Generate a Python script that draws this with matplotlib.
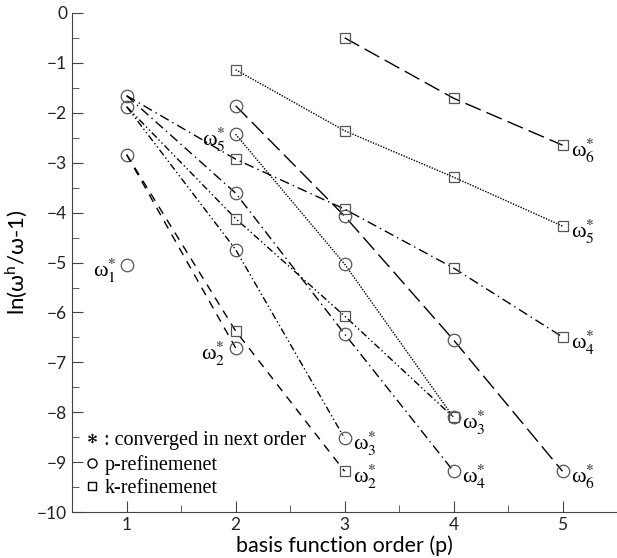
import matplotlib
matplotlib.use('Agg')
import matplotlib.pyplot as plt
from matplotlib.lines import Line2D

plt.rcParams['font.family'] = ['Lato', 'DejaVu Sans']
plt.rcParams['mathtext.fontset'] = 'stix'

# p-refinement (circles)
p_w1_x, p_w1_y = [1], [-5.05]
p_w2_x, p_w2_y = [1, 2], [-2.84, -6.71]
p_w3_x, p_w3_y = [1, 2, 3], [-1.88, -4.74, -8.52]
p_w4_x, p_w4_y = [1, 2, 3, 4], [-1.66, -3.61, -6.43, -9.18]
p_w5_x, p_w5_y = [2, 3, 4], [-2.43, -5.03, -8.10]
p_w6_x, p_w6_y = [2, 3, 4, 5], [-1.86, -4.07, -6.55, -9.18]

# k-refinement (squares), first point at p=1 is shared with p-refinement
k_w2_x, k_w2_y = [1, 2, 3], [-2.84, -6.37, -9.18]
k_w3_x, k_w3_y = [1, 2, 3, 4], [-1.88, -4.12, -6.07, -8.10]
k_w4_x, k_w4_y = [1, 2, 3, 4, 5], [-1.66, -2.93, -3.93, -5.11, -6.49]
k_w5_x, k_w5_y = [2, 3, 4, 5], [-1.14, -2.36, -3.29, -4.27]
k_w6_x, k_w6_y = [3, 4, 5], [-0.50, -1.71, -2.65]

# mode labels: (mode, x, y, side)
labels = [
    (1, 1, -5.05, 'left'),
    (2, 2, -6.71, 'left'),
    (2, 3, -9.18, 'right'),
    (3, 3, -8.52, 'right'),
    (3, 4, -8.10, 'right'),
    (4, 4, -9.18, 'right'),
    (4, 5, -6.49, 'right'),
    (5, 2, -2.43, 'left'),
    (5, 5, -4.27, 'right'),
    (6, 5, -2.65, 'right'),
    (6, 5, -9.18, 'right'),
]

styles = {
    2: (0, (6, 5)),
    3: (0, (5, 2, 1, 2, 1, 2)),
    4: (0, (7, 3, 1, 3)),
    5: (0, (1, 1)),
    6: (0, (12, 4.5)),
}

fig = plt.figure(figsize=(6.17, 5.58), dpi=100)
ax = fig.add_axes([0.117, 0.082, 0.883, 0.895])

mk_gray = '#555555'
circ = dict(marker='o', markersize=9, markerfacecolor='none', markeredgecolor=mk_gray, markeredgewidth=0.9)
sq = dict(marker='s', markersize=6.5, markerfacecolor='none', markeredgecolor=mk_gray, markeredgewidth=0.9)

ax.plot(p_w1_x, p_w1_y, linestyle='none', **circ)
for m, (x, y) in zip([2, 3, 4, 5, 6], [(p_w2_x, p_w2_y), (p_w3_x, p_w3_y), (p_w4_x, p_w4_y),
                                       (p_w5_x, p_w5_y), (p_w6_x, p_w6_y)]):
    ax.plot(x, y, color='black', lw=1.0, linestyle=styles[m], **circ)

for m, (x, y) in zip([2, 3, 4, 5, 6], [(k_w2_x, k_w2_y), (k_w3_x, k_w3_y), (k_w4_x, k_w4_y),
                                       (k_w5_x, k_w5_y), (k_w6_x, k_w6_y)]):
    start = 1 if x[0] == 1 else 0
    ax.plot(x, y, color='black', lw=1.0, linestyle=styles[m],
            markevery=list(range(start, len(x))), **sq)

for m, x, y, side in labels:
    txt = 'ω$_{%d}^{*}$' % m
    if side == 'left':
        ax.annotate(txt, (x, y), xytext=(-7, -4), textcoords='offset points',
                    ha='right', va='center', fontsize=16, family='Liberation Serif')
    else:
        ax.annotate(txt, (x, y), xytext=(6, -4), textcoords='offset points',
                    ha='left', va='center', fontsize=16, family='Liberation Serif')

handles = [
    Line2D([], [], linestyle='none', marker=r'$*$', color='black', markersize=6.5, markeredgewidth=0.3),
    Line2D([], [], linestyle='none', marker='o', markerfacecolor='none', markeredgecolor='black', markersize=6.5),
    Line2D([], [], linestyle='none', marker='s', markerfacecolor='none', markeredgecolor='black', markersize=5.5),
]
leg = ax.legend(handles, [': converged in next order', 'p-refinemenet', 'k-refinemenet'],
                loc='lower left', bbox_to_anchor=(0.0, 0.0), frameon=False,
                prop={'family': 'Liberation Serif', 'size': 14.5}, handlelength=0.6,
                handletextpad=0.3, labelspacing=0.22, borderaxespad=0.3)

ax.set_xlim(0.5, 5.5)
ax.set_ylim(-10, 0)
ax.set_xticks([1, 2, 3, 4, 5])
ax.set_xticks([1.5, 2.5, 3.5, 4.5], minor=True)
ax.set_yticks(range(-10, 1))
ax.set_yticks([v + 0.5 for v in range(-10, 0)], minor=True)
ax.tick_params(which='both', direction='in', labelsize=12.5, color='#444444', labelcolor='#222222')
ax.tick_params(which='major', length=8)
ax.tick_params(which='minor', length=5)
ax.spines['top'].set_visible(False)
ax.spines['right'].set_visible(False)
for s in ['left', 'bottom']:
    ax.spines[s].set_color('#444444')

ax.set_xlabel('basis function order (p)', fontsize=15.5, labelpad=2)
ax.set_ylabel(r'ln(ω$^{\mathregular{h}}$/ω-1)', fontsize=16, labelpad=6)

fig.savefig('out.png', dpi=100)
